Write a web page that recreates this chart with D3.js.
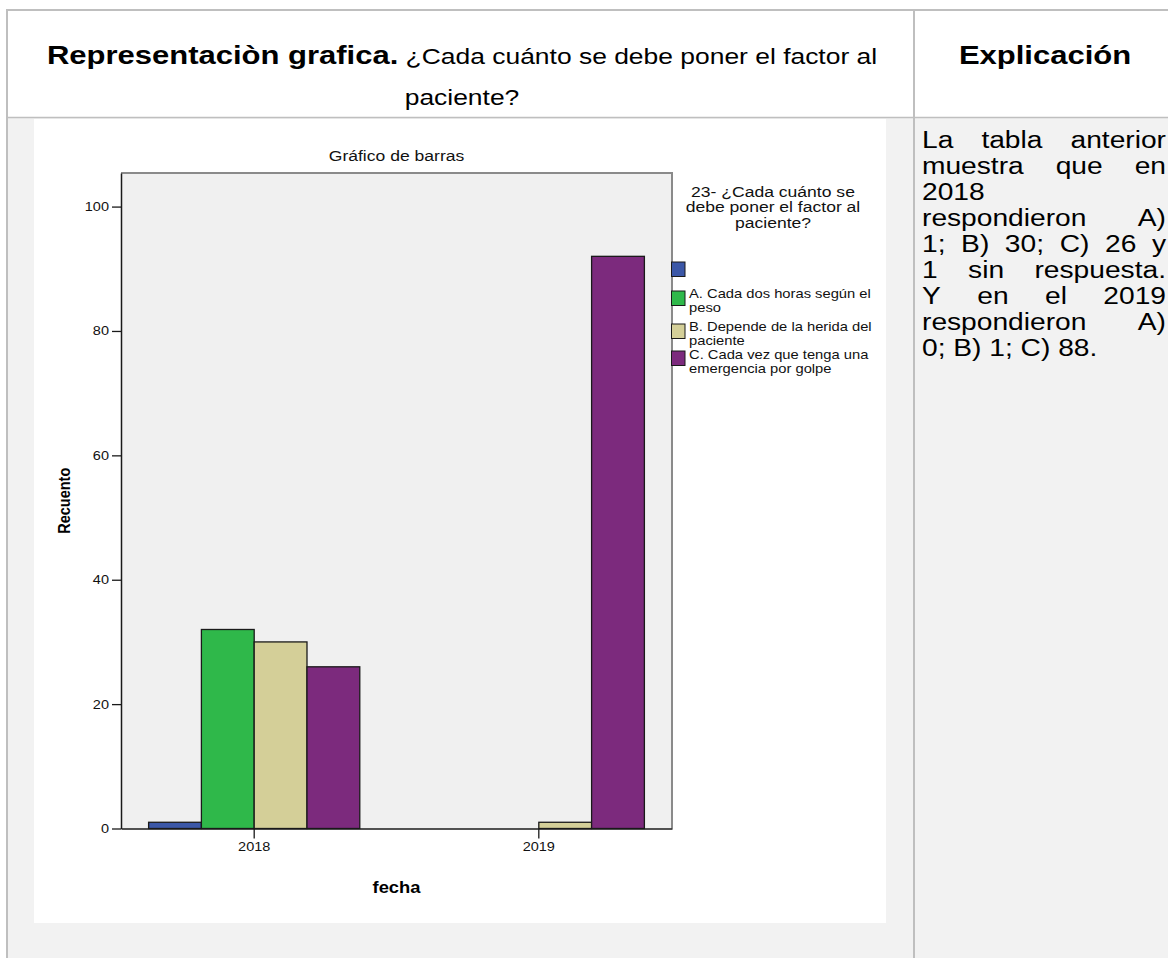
<!DOCTYPE html>
<html><head><meta charset="utf-8">
<script src="https://cdn.jsdelivr.net/npm/d3@7"></script>
<style>
html,body{margin:0;padding:0;background:#fff;}
svg{display:block;}
</style></head><body>
<script>
// ---------- data ----------
const categories = ["2018", "2019"];
const seriesKeys = ["Sin respuesta", "A", "B", "C"];
const seriesColors = ["#3b57a7", "#2fb84a", "#d4cf98", "#7c2a7d"];
const legendLabels = [
  [""],
  ["A. Cada dos horas según el", "peso"],
  ["B. Depende de la herida del", "paciente"],
  ["C. Cada vez que tenga una", "emergencia por golpe"]
];
const values2018 = [1, 32, 30, 26];
const values2019 = [0, 0, 1, 92];
const yTicks = [0, 20, 40, 60, 80, 100];
const legendTitle = ["23- ¿Cada cuánto se", "debe poner el factor al", "paciente?"];
const chartTitle = "Gráfico de barras";
const yLabel = "Recuento";
const xLabel = "fecha";
const headerBold = "Representaciòn grafica.";
const headerRegular = " ¿Cada cuánto se debe poner el factor al";
const headerLine2 = "paciente?";
const headerRight = "Explicación";
const explanationLines = [
  ["La tabla anterior", true],
  ["muestra que en", true],
  ["2018", false],
  ["respondieron A)", true],
  ["1; B) 30; C) 26 y", true],
  ["1 sin respuesta.", true],
  ["Y en el 2019", true],
  ["respondieron A)", true],
  ["0; B) 1; C) 88.", false]
];

const W = 1168, H = 958;
const SX = 1.17; // horizontal stretch of the original picture
const FONT = "'Liberation Sans', Arial, sans-serif";
const svg = d3.select("body").append("svg").attr("width", W).attr("height", H);

function stext(parent, x, y, size, opts = {}) {
  const sx = opts.sx || SX;
  const t = parent.append("text")
    .attr("transform", `translate(${x},${y}) scale(${sx},1)${opts.rotate ? ` rotate(${opts.rotate})` : ""}`)
    .attr("font-family", FONT).attr("font-size", size).attr("fill", opts.fill || "#000")
    .attr("text-anchor", opts.anchor || "start");
  if (opts.bold) t.attr("font-weight", "bold");
  if (opts.text !== undefined) t.text(opts.text);
  return t;
}

// ---------- table ----------
const border = "#bfbfbf";
svg.append("rect").attr("x", 8).attr("y", 118).attr("width", W - 8).attr("height", H - 118).attr("fill", "#f2f2f2");
svg.append("line").attr("x1", 6).attr("x2", W).attr("y1", 10).attr("y2", 10).attr("stroke", border).attr("stroke-width", 2);
svg.append("line").attr("x1", 7).attr("x2", 7).attr("y1", 9).attr("y2", H).attr("stroke", border).attr("stroke-width", 2);
svg.append("line").attr("x1", 7).attr("x2", W).attr("y1", 117.5).attr("y2", 117.5).attr("stroke", border).attr("stroke-width", 1.5);
svg.append("line").attr("x1", 914).attr("x2", 914).attr("y1", 10).attr("y2", H).attr("stroke", border).attr("stroke-width", 2);

const ht = stext(svg, 462, 64, 26.5, { anchor: "middle" });
ht.append("tspan").attr("font-weight", "bold").attr("font-size", 26.5).text(headerBold);
ht.append("tspan").attr("font-size", 22.6).text(headerRegular);
stext(svg, 462, 105, 22.6, { anchor: "middle", text: headerLine2 });
stext(svg, 1045, 64, 26.5, { anchor: "middle", bold: true, text: headerRight });

// explanation text, justified
const tx0 = 922, tw = 244, tBase = 148, tPitch = 26, tSize = 24.5, tSX = 1.15;
explanationLines.forEach(([line, just], i) => {
  const y = tBase + i * tPitch;
  const words = line.split(" ");
  const g = svg.append("g");
  const nodes = words.map(w => stext(g, 0, y, tSize, { text: w, sx: tSX }));
  const widths = nodes.map(n => n.node().getComputedTextLength() * tSX);
  const probe = g.append("text").attr("font-family", FONT).attr("font-size", tSize).text("a a");
  const a = probe.node().getComputedTextLength(); probe.text("aa");
  const spaceW = (a - probe.node().getComputedTextLength()) * tSX; probe.remove();
  const gap = (just && words.length > 1) ? (tw - d3.sum(widths)) / (words.length - 1) : spaceW;
  let x = tx0;
  nodes.forEach((n, k) => { n.attr("transform", `translate(${x},${y}) scale(${tSX},1)`); x += widths[k] + gap; });
});

// ---------- chart ----------
svg.append("rect").attr("x", 34).attr("y", 119).attr("width", 852).attr("height", 804).attr("fill", "#fff");

const plot = { l: 121, r: 672, t: 173, b: 828.5 };
const x0 = d3.scaleBand().domain(categories).range([plot.l, plot.r]).paddingInner(0.258).paddingOuter(0.097);
const x1 = d3.scaleBand().domain(d3.range(seriesKeys.length)).range([0, x0.bandwidth()]);
const y = d3.scaleLinear().domain([0, 105.4]).range([plot.b, plot.t]);

svg.append("rect").attr("x", plot.l).attr("y", plot.t).attr("width", plot.r - plot.l).attr("height", plot.b - plot.t)
  .attr("fill", "#f0f0f0");
svg.append("path").attr("d", `M${plot.l},${plot.t}H${plot.r}V${plot.b}`).attr("fill", "none")
  .attr("stroke", "#8a8a8a").attr("stroke-width", 2);

stext(svg, (plot.l + plot.r) / 2, 161, 15, { anchor: "middle", text: chartTitle, fill: "#111" });

const data = categories.map((c, i) => ({ cat: c, vals: i === 0 ? values2018 : values2019 }));
const groups = svg.append("g").selectAll("g").data(data).join("g")
  .attr("transform", d => `translate(${x0(d.cat)},0)`);
groups.selectAll("rect").data(d => d.vals.map((v, k) => ({ v, k })).filter(e => e.v > 0)).join("rect")
  .attr("x", e => x1(e.k)).attr("width", x1.bandwidth())
  .attr("y", e => y(e.v)).attr("height", e => y(0) - y(e.v))
  .attr("fill", e => seriesColors[e.k]).attr("stroke", "#1a1a1a").attr("stroke-width", 1.3);

function styleAxisText(sel) {
  sel.selectAll(".tick text").each(function () {
    const t = d3.select(this);
    const tx = +t.attr("x") || 0, ty = +t.attr("y") || 0;
    t.attr("x", null).attr("y", null)
      .attr("transform", `translate(${tx},${ty}) scale(${SX},1)`)
      .attr("font-family", FONT).attr("font-size", 12.4).attr("fill", "#111");
  });
}
const yAxis = svg.append("g").attr("transform", `translate(${plot.l},0)`)
  .call(d3.axisLeft(y).tickValues(yTicks).tickSize(9).tickSizeOuter(0).tickPadding(3));
yAxis.select(".domain").attr("stroke", "#1a1a1a").attr("stroke-width", 1.5);
yAxis.selectAll(".tick line").attr("stroke", "#1a1a1a").attr("stroke-width", 1.3);
styleAxisText(yAxis);

const xAxis = svg.append("g").attr("transform", `translate(0,${plot.b})`)
  .call(d3.axisBottom(x0).tickSize(10).tickSizeOuter(0).tickPadding(4));
xAxis.select(".domain").attr("stroke", "#1a1a1a").attr("stroke-width", 1.5);
xAxis.selectAll(".tick line").attr("stroke", "#1a1a1a").attr("stroke-width", 1.3);
styleAxisText(xAxis);

stext(svg, 70, (plot.t + plot.b) / 2, 14.5, { anchor: "middle", bold: true, rotate: -90, text: yLabel });
stext(svg, (plot.l + plot.r) / 2, 893, 15.7, { anchor: "middle", bold: true, text: xLabel });

// legend
const titleBase = [196.5, 212, 227.5];
legendTitle.forEach((t, i) => stext(svg, 773, titleBase[i], 15, { anchor: "middle", fill: "#111", text: t }));
const swatchTops = [262, 291, 324, 351];
const labelBase = [null, 297.5, 331, 358.5];
legendLabels.forEach((lines, k) => {
  svg.append("rect").attr("x", 671.5).attr("y", swatchTops[k]).attr("width", 13.5).attr("height", 14.5)
    .attr("fill", seriesColors[k]).attr("stroke", "#1a1a1a").attr("stroke-width", 1);
  lines.forEach((t, j) => { if (t) stext(svg, 689, labelBase[k] + j * 14, 12.6, { fill: "#111", text: t }); });
});
</script>
</body></html>
